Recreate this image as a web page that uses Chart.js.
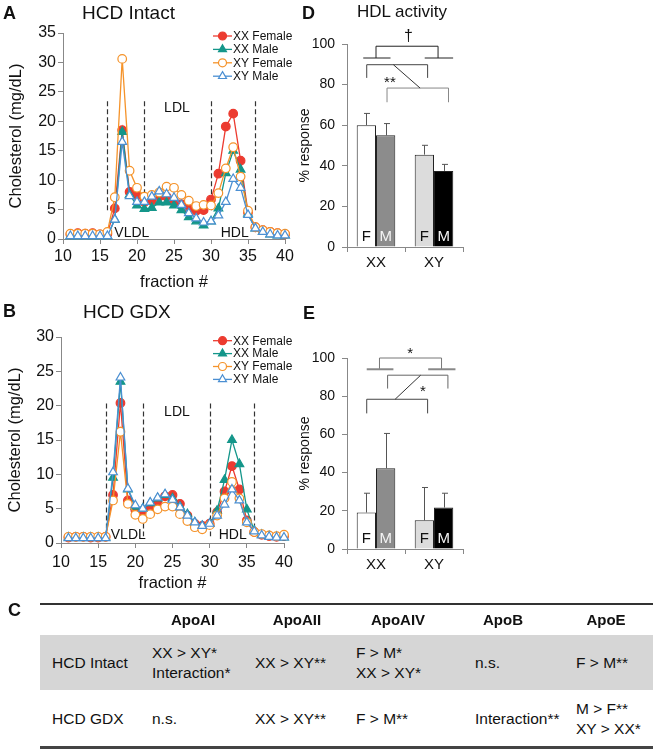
<!DOCTYPE html>
<html>
<head>
<meta charset="utf-8">
<title>Cholesterol profiles and HDL activity</title>
<script src="https://cdn.jsdelivr.net/npm/chart.js@4.4.1/dist/chart.umd.min.js"></script>
<style>
  body { margin: 0; background: #fff; font-family: "Liberation Sans", Arial, sans-serif; color: #111; }
  #page { position: relative; width: 658px; height: 750px; overflow: hidden; }
  canvas { position: absolute; }
  .t { position: absolute; white-space: nowrap; line-height: 20px; }
  .panel { font-weight: bold; font-size: 18px; }
  .bar { position: absolute; left: 40px; width: 613px; }
</style>
</head>
<body>
<div id="page">
  <canvas id="chartA" width="300" height="295" style="left:0;top:0"></canvas>
  <canvas id="chartB" width="300" height="306" style="left:0;top:290px"></canvas>
  <canvas id="chartD" width="200" height="290" style="left:290px;top:0"></canvas>
  <canvas id="chartE" width="200" height="300" style="left:290px;top:290px"></canvas>

  <div class="t panel" style="left:3px;top:3px">A</div>
  <div class="t" style="left:82px;top:3px;font-size:19px">HCD Intact</div>
  <div class="t panel" style="left:3px;top:301px">B</div>
  <div class="t" style="left:83px;top:302px;font-size:19px">HCD GDX</div>
  <div class="t panel" style="left:302px;top:3px">D</div>
  <div class="t" style="left:402px;top:2px;font-size:17px;transform:translateX(-50%)">HDL activity</div>
  <div class="t panel" style="left:303px;top:303px">E</div>
  <div class="t panel" style="left:8px;top:600px">C</div>

  <div class="bar" style="top:603px;height:2px;background:#333"></div>
  <div class="bar" style="top:635px;height:55px;background:#d6d6d6"></div>
  <div class="bar" style="top:746px;height:3px;background:#444"></div>
  <div id="tableC"></div>
</div>

<script>
// fractions collected from the column
const fractions = [11, 12, 13, 14, 15, 16, 17, 18, 19, 20, 21, 22, 23, 24, 25,
                   26, 27, 28, 29, 30, 31, 32, 33, 34, 35, 36, 37, 38, 39, 40];
const seriesNames = ['XX Female', 'XX Male', 'XY Female', 'XY Male'];

// panel A, HCD intact
const intactXXFemale = [0.8, 1.0, 0.9, 1.0, 0.8, 0.9, 5.2, 18.5, 8.0, 7.4, 6.3, 6.5, 7.2, 7.2, 6.4,
                        5.9, 5.1, 4.8, 4.9, 6.7, 11.1, 19.1, 21.3, 13.3, 4.5, 2.0, 1.5, 1.2, 1.0, 0.8];
const intactXXMale   = [0.5, 0.5, 0.5, 0.5, 0.5, 0.5, 3.3, 18.2, 7.5, 5.7, 5.1, 5.3, 6.2, 6.2, 5.7,
                        4.9, 3.7, 3.0, 2.3, 3.0, 5.2, 11.2, 15.0, 11.8, 4.3, 1.8, 1.2, 0.8, 0.6, 0.6];
const intactXYFemale = [0.9, 0.9, 0.9, 0.9, 0.8, 1.2, 7.1, 30.6, 11.6, 8.7, 7.2, 7.5, 7.9, 8.9, 8.7,
                        7.5, 6.5, 5.6, 5.8, 5.7, 7.8, 12.0, 15.6, 10.6, 4.8, 2.0, 1.5, 1.2, 1.0, 0.9];
const intactXYMale   = [0.5, 0.5, 0.5, 0.5, 0.5, 0.5, 3.3, 16.5, 7.3, 6.3, 6.3, 7.2, 8.1, 7.6, 7.0,
                        5.8, 4.4, 3.5, 2.8, 3.0, 4.0, 6.3, 10.2, 8.7, 4.1, 1.8, 1.2, 0.8, 0.6, 0.6];

// panel B, HCD GDX
const gdxXXFemale = [0.8, 0.9, 0.9, 0.8, 0.8, 0.9, 7.0, 20.4, 6.2, 4.8, 4.6, 5.3, 5.8, 6.8, 7.0,
                     5.7, 4.0, 2.8, 2.5, 2.8, 4.5, 7.5, 11.2, 7.8, 3.3, 1.6, 1.2, 1.0, 0.9, 1.0];
const gdxXXMale   = [0.8, 0.8, 0.8, 0.8, 0.8, 0.8, 9.5, 23.5, 7.8, 5.3, 5.0, 5.8, 6.5, 7.0, 6.5,
                     5.3, 4.2, 3.0, 2.5, 2.8, 4.7, 9.2, 15.0, 11.5, 4.9, 1.8, 1.2, 1.0, 0.9, 0.8];
const gdxXYFemale = [0.9, 0.9, 0.9, 0.9, 0.9, 0.9, 6.2, 16.2, 5.7, 4.1, 3.5, 4.2, 4.9, 5.3, 5.3,
                     4.2, 3.2, 2.3, 2.0, 2.6, 4.0, 6.5, 8.9, 6.5, 3.0, 1.6, 1.3, 1.1, 1.0, 1.2];
const gdxXYMale   = [0.7, 0.7, 0.7, 0.7, 0.7, 0.7, 10.3, 24.1, 7.9, 5.5, 5.0, 5.9, 6.6, 7.1, 6.3,
                     5.2, 4.0, 3.0, 2.5, 2.8, 4.0, 5.6, 7.8, 6.2, 3.0, 1.7, 1.1, 0.9, 0.8, 0.8];

// panels D and E, % response (mean and upper error)
const genotypes = ['XX', 'XY'];
const hdlFemale = [60, 45.5];
const hdlFemaleErr = [5.8, 4.6];
const hdlMale = [55, 37.5];
const hdlMaleErr = [5.8, 3.2];
const gdxFemale = [19.1, 15];
const gdxFemaleErr = [10.1, 17.2];
const gdxMale = [42.3, 21.7];
const gdxMaleErr = [18.2, 7.5];

// panel C
const apoCols = ['ApoAI', 'ApoAII', 'ApoAIV', 'ApoB', 'ApoE'];
const apoRows = ['HCD Intact', 'HCD GDX'];
const apoCells = [
  [['XX > XY*', 'Interaction*'], ['XX > XY**'], ['F > M*', 'XX > XY*'], ['n.s.'], ['F > M**']],
  [['n.s.'], ['XX > XY**'], ['F > M**'], ['Interaction**'], ['M > F**', 'XY > XX*']]
];

const seriesStyle = [
  {color: '#ec3b30', shape: 'circle', filled: true},
  {color: '#14968a', shape: 'triangle', filled: true},
  {color: '#f5932a', shape: 'circle', filled: false},
  {color: '#4b8fd2', shape: 'triangle', filled: false}
];

Chart.defaults.font.family = '"Liberation Sans", Arial, sans-serif';
Chart.defaults.color = '#111';
Chart.defaults.animation = false;

function drawMarker(ctx, shape, x, y, r) {
  ctx.beginPath();
  if (shape === 'circle') {
    ctx.arc(x, y, r, 0, Math.PI * 2);
  } else {
    const s = Math.sin(Math.PI / 3) * r;
    ctx.moveTo(x, y - r);
    ctx.lineTo(x + s, y + r / 2);
    ctx.lineTo(x - s, y + r / 2);
    ctx.closePath();
  }
  ctx.fill();
  ctx.stroke();
}

const fractionNotes = {
  id: 'fractionNotes',
  beforeDatasetsDraw(chart, args, o) {
    const {ctx, scales: {x, y}} = chart;
    ctx.save();
    ctx.strokeStyle = '#333';
    ctx.lineWidth = 1.2;
    ctx.setLineDash([5, 3]);
    o.bounds.forEach(b => {
      const px = Math.round(x.getPixelForValue(b)) + 0.5;
      ctx.beginPath();
      ctx.moveTo(px, y.getPixelForValue(o.dashTop));
      ctx.lineTo(px, y.getPixelForValue(o.dashBottom));
      ctx.stroke();
    });
    ctx.restore();
  },
  afterDraw(chart, args, o) {
    const {ctx, scales: {x, y}} = chart;
    ctx.save();
    ctx.fillStyle = '#111';
    ctx.font = '14px "Liberation Sans", Arial, sans-serif';
    ctx.textAlign = 'center';
    ctx.textBaseline = 'middle';
    o.regions.forEach(r => ctx.fillText(r.text, x.getPixelForValue(r.x), y.getPixelForValue(r.y)));

    // legend: line + marker + name
    ctx.font = '12px "Liberation Sans", Arial, sans-serif';
    ctx.textAlign = 'left';
    chart.data.datasets.forEach((d, i) => {
      const st = seriesStyle[i];
      const ly = o.legend.y + i * o.legend.gap;
      ctx.strokeStyle = st.color;
      ctx.lineWidth = 1.3;
      ctx.beginPath();
      ctx.moveTo(o.legend.x, ly);
      ctx.lineTo(o.legend.x + 19, ly);
      ctx.stroke();
      ctx.fillStyle = st.filled ? st.color : '#fff';
      ctx.lineWidth = 1.2;
      drawMarker(ctx, st.shape, o.legend.x + 9.5, ly, st.shape === 'circle' ? 4 : 4.6);
      ctx.fillStyle = '#111';
      ctx.fillText(d.label, o.legend.x + 20, ly + 0.5);
    });
    ctx.restore();
  }
};

function makeProfile(id, seriesValues, cfg) {
  return new Chart(document.getElementById(id), {
    type: 'line',
    data: {
      datasets: seriesValues.map((vals, i) => ({
        label: seriesNames[i],
        data: fractions.map((f, k) => ({x: f, y: vals[k]})),
        borderColor: seriesStyle[i].color,
        backgroundColor: seriesStyle[i].color,
        borderWidth: 1.3,
        pointStyle: seriesStyle[i].shape,
        pointRadius: seriesStyle[i].shape === 'triangle' ? 5 : 4.3,
        pointBackgroundColor: seriesStyle[i].filled ? seriesStyle[i].color : '#fff',
        pointBorderColor: seriesStyle[i].color,
        pointBorderWidth: 1.2,
        tension: 0,
        clip: false,
        order: 4 - i
      }))
    },
    options: {
      responsive: false,
      layout: {padding: cfg.padding},
      plugins: {legend: {display: false}, tooltip: {enabled: false}, fractionNotes: cfg.notes},
      scales: {
        x: {
          type: 'linear', min: 10, max: 40,
          ticks: {stepSize: 5, font: {size: 16}, padding: cfg.xTickPad, maxRotation: 0},
          grid: {drawOnChartArea: false, tickLength: 5, color: '#888'},
          border: {color: '#888'},
          title: {display: true, text: 'fraction #', font: {size: 16.5}, padding: {top: 0, bottom: 3}},
          afterFit: s => { s.height = cfg.xHeight; }
        },
        y: {
          min: 0, max: cfg.yMax,
          ticks: {stepSize: 5, font: {size: 16}, padding: 2},
          grid: {drawOnChartArea: false, tickLength: 5, color: '#888'},
          border: {color: '#888'},
          title: {display: true, text: 'Cholesterol (mg/dL)', font: {size: 16.5}, padding: {top: cfg.yTitlePad, bottom: 0}},
          afterFit: s => { s.width = cfg.yWidth; }
        }
      }
    },
    plugins: [fractionNotes]
  });
}

makeProfile('chartA', [intactXXFemale, intactXXMale, intactXYFemale, intactXYMale], {
  padding: {top: 33, right: 15, left: 0, bottom: 0},
  yMax: 35, yWidth: 63, xHeight: 56, xTickPad: 3, yTitlePad: 7,
  notes: {
    bounds: [16, 21, 30, 36], dashTop: 23.4, dashBottom: 4.7,
    regions: [{text: 'VLDL', x: 19.3, y: 1.0}, {text: 'LDL', x: 25.4, y: 22.2}, {text: 'HDL', x: 33.2, y: 1.0}],
    legend: {x: 213, y: 36, gap: 13.4}
  }
});

makeProfile('chartB', [gdxXXFemale, gdxXXMale, gdxXYFemale, gdxXYMale], {
  padding: {top: 47, right: 16, left: 0, bottom: 0},
  yMax: 30, yWidth: 61, xHeight: 53, xTickPad: 5, yTitlePad: 6,
  notes: {
    bounds: [16, 21, 30, 36], dashTop: 20.3, dashBottom: 1.0,
    regions: [{text: 'VLDL', x: 19.05, y: 1.2}, {text: 'LDL', x: 25.6, y: 19.1}, {text: 'HDL', x: 33.1, y: 1.2}],
    legend: {x: 213, y: 50.7, gap: 12.9}
  }
});

const barNotes = {
  id: 'barNotes',
  afterDatasetsDraw(chart, args, o) {
    const {ctx, scales: {x, y}} = chart;
    ctx.save();
    chart.data.datasets.forEach((ds, i) => {
      chart.getDatasetMeta(i).data.forEach((bar, j) => {
        const top = y.getPixelForValue(ds.data[j]);
        const end = y.getPixelForValue(ds.data[j] + ds.err[j]);
        const bx = Math.round(bar.x) + 0.5;
        ctx.strokeStyle = '#555';
        ctx.lineWidth = 1;
        ctx.beginPath();
        ctx.moveTo(bx, top);
        ctx.lineTo(bx, end);
        ctx.moveTo(bx - 2.5, end);
        ctx.lineTo(bx + 3.5, end);
        ctx.stroke();
        ctx.fillStyle = ds.letterColor[j];
        ctx.font = '15px "Liberation Sans", Arial, sans-serif';
        ctx.textAlign = 'center';
        ctx.textBaseline = 'middle';
        ctx.fillText(ds.letter, bar.x, y.getPixelForValue(0) - 10.5);
      });
    });
    ctx.restore();
  },
  afterDraw(chart, args, o) {
    const {ctx, scales: {x, y}} = chart;
    const x0 = x.getPixelForValue(0), x1 = x.getPixelForValue(1);
    const px = u => x0 + u * (x1 - x0);
    ctx.save();
    o.brackets.forEach(b => {
      ctx.strokeStyle = b.color;
      ctx.lineWidth = 1;
      ctx.beginPath();
      ctx.moveTo(px(b.u1), y.getPixelForValue(b.drop));
      ctx.lineTo(px(b.u1), y.getPixelForValue(b.v));
      ctx.lineTo(px(b.u2), y.getPixelForValue(b.v));
      ctx.lineTo(px(b.u2), y.getPixelForValue(b.drop));
      ctx.stroke();
    });
    o.segments.forEach(s => {
      ctx.strokeStyle = s.color;
      ctx.lineWidth = s.width || 1;
      ctx.beginPath();
      ctx.moveTo(px(s.u1), y.getPixelForValue(s.v1));
      ctx.lineTo(px(s.u2), y.getPixelForValue(s.v2));
      ctx.stroke();
    });
    ctx.fillStyle = '#111';
    ctx.textAlign = 'center';
    ctx.textBaseline = 'middle';
    o.texts.forEach(t => {
      ctx.font = t.size + 'px "Liberation Sans", Arial, sans-serif';
      ctx.fillText(t.text, px(t.u), y.getPixelForValue(t.v) + (t.dy || 0));
    });
    ctx.restore();
  }
};

function makeResponse(id, female, femaleErr, male, maleErr, cfg) {
  return new Chart(document.getElementById(id), {
    type: 'bar',
    data: {
      labels: genotypes,
      datasets: [
        {label: 'F', data: female, err: femaleErr, letter: 'F', letterColor: ['#111', '#111'],
         backgroundColor: ['#ffffff', '#dcdcdc'], borderColor: '#222', borderWidth: 1,
         categoryPercentage: 0.665, barPercentage: 1},
        {label: 'M', data: male, err: maleErr, letter: 'M', letterColor: ['#f4f4f4', '#f4f4f4'],
         backgroundColor: ['#8c8c8c', '#000000'], borderColor: '#222', borderWidth: 1,
         categoryPercentage: 0.665, barPercentage: 1}
      ]
    },
    options: {
      responsive: false,
      layout: {padding: cfg.padding},
      plugins: {legend: {display: false}, tooltip: {enabled: false}, barNotes: cfg.notes},
      scales: {
        x: {
          ticks: {font: {size: 15}, padding: 2},
          grid: {offset: true, drawOnChartArea: false, tickLength: 5, color: '#888'},
          border: {color: '#888'},
          afterFit: s => { s.height = cfg.xHeight; }
        },
        y: {
          min: 0, max: 100,
          ticks: {stepSize: 20, font: {size: 14}, padding: 7},
          grid: {drawOnChartArea: false, tickLength: 5, color: '#888'},
          border: {color: '#888'},
          title: {display: true, text: '% response', font: {size: 14}, padding: {top: 6.6, bottom: 0}},
          afterFit: s => { s.width = 57; }
        }
      }
    },
    plugins: [barNotes]
  });
}

makeResponse('chartD', hdlFemale, hdlFemaleErr, hdlMale, hdlMaleErr, {
  padding: {top: 44, right: 27, left: 0, bottom: 0},
  xHeight: 43,
  notes: {
    brackets: [
      {u1: 0.0, u2: 1.07, v: 98.9, drop: 93.1, color: '#222'},
      {u1: -0.16, u2: 0.89, v: 89.8, drop: 83.3, color: '#444'},
      {u1: 0.19, u2: 1.25, v: 78.3, drop: 71.3, color: '#888'}
    ],
    segments: [
      {u1: -0.22, v1: 93.1, u2: 0.25, v2: 93.1, color: '#222'},
      {u1: 0.84, v1: 93.1, u2: 1.33, v2: 93.1, color: '#222'},
      {u1: 0.30, v1: 89.8, u2: 0.76, v2: 78.3, color: '#333'}
    ],
    texts: [{u: 0.56, v: 103.8, text: '†', size: 16}, {u: 0.24, v: 82.4, text: '**', size: 15, dy: 3}]
  }
});

makeResponse('chartE', gdxFemale, gdxFemaleErr, gdxMale, gdxMaleErr, {
  padding: {top: 68, right: 27, left: 0, bottom: 0},
  xHeight: 41,
  notes: {
    brackets: [
      {u1: 0.06, u2: 1.13, v: 100, drop: 94.1, color: '#777'},
      {u1: 0.20, u2: 1.24, v: 91, drop: 84, color: '#666'},
      {u1: -0.16, u2: 0.89, v: 78.4, drop: 71, color: '#444'}
    ],
    segments: [
      {u1: -0.16, v1: 94.1, u2: 0.30, v2: 94.1, color: '#888', width: 2},
      {u1: 0.90, v1: 94.1, u2: 1.37, v2: 94.1, color: '#888', width: 2},
      {u1: 0.33, v1: 78.4, u2: 0.77, v2: 91, color: '#333'}
    ],
    texts: [{u: 0.59, v: 104, text: '*', size: 15, dy: 3}, {u: 0.81, v: 83.7, text: '*', size: 15, dy: 3}]
  }
});

// table C
const table = document.getElementById('tableC');
const headCenters = [193, 297, 398, 503, 606];
const cellLefts = [152, 255, 356, 475, 576];
const rowCenters = [663, 719];
function addText(txt, left, top, extra) {
  const d = document.createElement('div');
  d.className = 't';
  d.textContent = txt;
  d.style.left = left + 'px';
  d.style.top = top + 'px';
  d.style.fontSize = '15.5px';
  Object.assign(d.style, extra || {});
  table.appendChild(d);
}
apoCols.forEach((c, i) => addText(c, headCenters[i], 610,
  {fontWeight: 'bold', fontSize: '15px', transform: 'translateX(-50%)'}));
apoRows.forEach((r, ri) => {
  addText(r, 52, rowCenters[ri] - 10);
  apoCells[ri].forEach((lines, ci) => {
    lines.forEach((ln, li) => {
      addText(ln, cellLefts[ci], rowCenters[ri] - 10 + (li - (lines.length - 1) / 2) * 20);
    });
  });
});
</script>
</body>
</html>
